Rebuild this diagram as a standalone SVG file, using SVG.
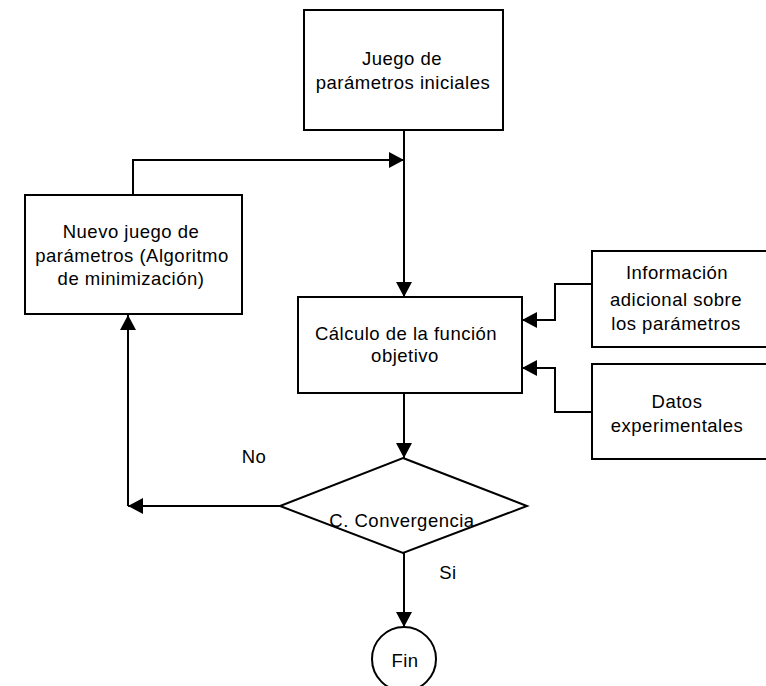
<svg xmlns="http://www.w3.org/2000/svg" width="766" height="686" viewBox="0 0 766 686">
  <defs>
    <marker id="arrow" markerWidth="15" markerHeight="16" refX="15" refY="8" orient="auto" markerUnits="userSpaceOnUse">
      <path d="M0,0 L15,8 L0,16 Z" fill="#000"/>
    </marker>
    <style>
      .box { fill: #fff; stroke: #000; stroke-width: 2; }
      .edge { fill: none; stroke: #000; stroke-width: 2; marker-end: url(#arrow); }
      .line { fill: none; stroke: #000; stroke-width: 2; }
      text { font-family: "Liberation Sans", Arial, sans-serif; font-size: 18.5px; letter-spacing: 0.5px; fill: #000; text-anchor: middle; }
    </style>
  </defs>
  <rect width="766" height="686" fill="#fff"/>

  <!-- connectors -->
  <g id="connectors">
    <path class="line" d="M404,130 L404,160"/>
    <path class="edge" d="M404,160 L404,297"/>
    <path class="edge" d="M133,195 L133,160 L404,160"/>
    <path class="edge" d="M592,284 L555,284 L555,320 L522,320"/>
    <path class="edge" d="M592,412 L555,412 L555,368 L522,368"/>
    <path class="edge" d="M404,393 L404,458"/>
    <path class="edge" d="M280,506 L128,506"/>
    <path class="edge" d="M128,506 L128,315"/>
    <path class="edge" d="M404,553 L404,627"/>
  </g>

  <g id="inicial">
    <rect class="box" x="304" y="10" width="199" height="120"/>
    <text x="402" y="65">Juego de</text>
    <text x="403" y="89">parámetros iniciales</text>
  </g>

  <g id="nuevo">
    <rect class="box" x="25" y="195" width="217" height="119"/>
    <text x="131" y="238">Nuevo juego de</text>
    <text x="132" y="262">parámetros (Algoritmo</text>
    <text x="131" y="285">de minimización)</text>
  </g>

  <g id="calculo">
    <rect class="box" x="298" y="297" width="224" height="96"/>
    <text x="406" y="340">Cálculo de la función</text>
    <text x="405" y="362">objetivo</text>
  </g>

  <g id="informacion">
    <rect class="box" x="592" y="251" width="180" height="96"/>
    <text x="677" y="279">Información</text>
    <text x="676" y="306">adicional sobre</text>
    <text x="676" y="330">los parámetros</text>
  </g>

  <g id="datos">
    <rect class="box" x="592" y="364" width="180" height="95"/>
    <text x="677" y="408">Datos</text>
    <text x="677" y="432">experimentales</text>
  </g>

  <g id="convergencia">
    <path class="box" d="M403,458 L527,506 L403,553 L280,506 Z"/>
    <text x="402" y="527">C. Convergencia</text>
  </g>

  <g id="etiquetas">
    <text x="254" y="463">No</text>
    <text x="448" y="579">Si</text>
  </g>

  <g id="fin">
    <circle class="box" cx="404" cy="659" r="32"/>
    <text x="405" y="667">Fin</text>
  </g>
</svg>
